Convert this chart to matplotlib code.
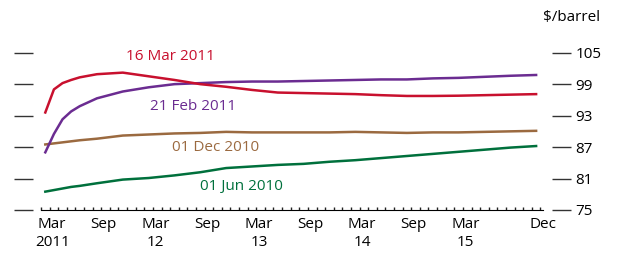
import numpy as np
import matplotlib.pyplot as plt

plt.rcParams['font.family'] = ['Open Sans', 'DejaVu Sans']

# months counted from Mar 2011 (0) to Dec 2015 (57)
months = [0, 1, 2, 3, 4, 6, 9, 12, 15, 18, 21, 24, 27, 30, 33, 36, 39, 42, 45, 48, 51, 54, 57]

mar16 = [93.6, 98.0, 99.2, 99.8, 100.3, 100.9, 101.2, 100.5, 99.8, 99.0, 98.5, 97.9,
         97.4, 97.3, 97.2, 97.1, 96.9, 96.75, 96.75, 96.8, 96.9, 97.0, 97.1]
feb21 = [86.0, 89.5, 92.3, 93.8, 94.8, 96.3, 97.6, 98.4, 99.0, 99.2, 99.4, 99.5,
         99.5, 99.6, 99.7, 99.8, 99.9, 99.9, 100.1, 100.2, 100.4, 100.6, 100.75]
dec01 = [87.5, 87.7, 87.9, 88.1, 88.3, 88.6, 89.2, 89.4, 89.6, 89.7, 89.9, 89.8,
         89.8, 89.8, 89.8, 89.9, 89.8, 89.7, 89.8, 89.8, 89.9, 90.0, 90.1]
jun01 = [78.5, 78.8, 79.1, 79.4, 79.6, 80.1, 80.8, 81.1, 81.6, 82.2, 83.0, 83.3,
         83.6, 83.8, 84.2, 84.5, 84.9, 85.3, 85.7, 86.1, 86.5, 86.9, 87.2]

tick_months = [0, 6, 12, 18, 24, 30, 36, 42, 48, 57]
tick_labels = ['Mar\n2011', 'Sep', 'Mar\n12', 'Sep', 'Mar\n13', 'Sep', 'Mar\n14', 'Sep', 'Mar\n15', 'Dec']
yticks = [75, 81, 87, 93, 99, 105]

red = '#c8102e'
purple = '#6b2c91'
brown = '#9b6a40'
green = '#00703c'

fig = plt.figure(figsize=(6.2, 2.6), dpi=100)
ax = fig.add_axes([41 / 620, 50 / 260, 502 / 620, 157.3 / 260])

ax.plot(months, jun01, color=green, lw=1.8, clip_on=False)
ax.plot(months, dec01, color=brown, lw=1.8, clip_on=False)
ax.plot(months, feb21, color=purple, lw=1.8, clip_on=False)
ax.plot(months, mar16, color=red, lw=1.8, clip_on=False)

ax.set_xlim(-0.5, 57.5)
ax.set_ylim(75, 105)

# series labels
fs = 11
ax.text(14.5, 104.3, '16 Mar 2011', color=red, fontsize=fs, ha='center', va='center')
ax.text(17.2, 94.8, '21 Feb 2011', color=purple, fontsize=fs, ha='center', va='center')
ax.text(19.8, 87.0, '01 Dec 2010', color=brown, fontsize=fs, ha='center', va='center')
ax.text(22.8, 79.5, '01 Jun 2010', color=green, fontsize=fs, ha='center', va='center')

# axes styling
for s in ['top', 'left', 'right']:
    ax.spines[s].set_visible(False)

ax.set_yticks(yticks)
ax.yaxis.set_ticks_position('both')
ax.spines['left'].set_position(('outward', 5.8))
ax.spines['right'].set_position(('outward', 6.5))
ax.tick_params(axis='y', which='major', direction='out', length=13.5, width=1.0,
               color='#333333', left=True, right=True, labelleft=False, labelright=True,
               labelsize=fs, pad=3.5)

ax.set_xticks([m + 0.8 for m in tick_months])
ax.set_xticklabels(tick_labels, fontsize=fs, linespacing=1.3, va='top')
ax.tick_params(axis='x', which='major', length=0, pad=5)

# small monthly ticks standing on the baseline
month_edges = np.arange(-0.5, 58, 1)
ax.vlines(month_edges, 0, 0.022, transform=ax.get_xaxis_transform(),
          color='#222222', lw=1.0, clip_on=False)

fig.text(600 / 620, 1 - 17 / 260, '$/barrel', fontsize=fs, ha='right', va='center')

fig.savefig('out.png', dpi=100)
